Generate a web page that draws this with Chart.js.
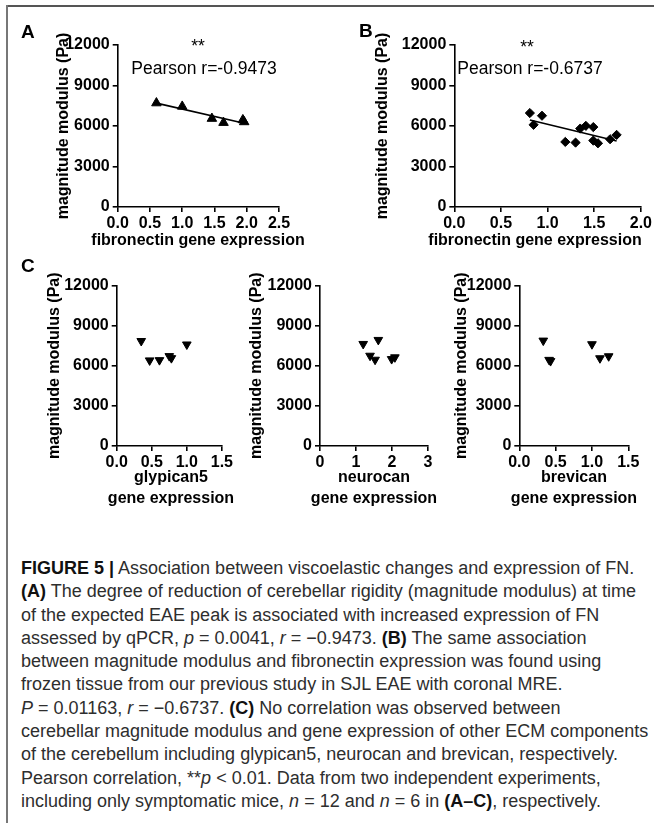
<!DOCTYPE html>
<html lang="en">
<head>
<meta charset="UTF-8">
<title>Figure 5 - magnitude modulus vs gene expression</title>
<script src="https://cdn.jsdelivr.net/npm/chart.js"></script>
<style>
  html, body { margin: 0; padding: 0; background: #fff; }
  #fig { position: relative; width: 654px; height: 823px; overflow: hidden; font-family: "Liberation Sans", Arial, sans-serif; }
  #fig canvas { position: absolute; }
  .frame-top { position: absolute; left: 6px; top: 5px; width: 648px; height: 2px; background: #555; }
  .frame-left { position: absolute; left: 6px; top: 5px; width: 2px; height: 818px; background: #777; }
  .lbl { position: absolute; font-weight: bold; font-size: 19px; color: #000; line-height: 1; }
  .note { position: absolute; font-size: 17.5px; color: #000; line-height: 1; transform: translate(-50%, -50%); white-space: nowrap; }
  .xt { position: absolute; font-weight: bold; font-size: 16px; line-height: 20.5px; color: #000; text-align: center; transform: translate(-50%, -50%); white-space: nowrap; }
  .cap { position: absolute; left: 21px; top: 557px; font-size: 18px; line-height: 23.3px; color: #2e2e2e; white-space: nowrap; }
  .cap b { color: #111; }
</style>
</head>
<body>
<div id="fig">
  <div class="frame-top"></div>
  <div class="frame-left"></div>

  <canvas id="chartA" width="300" height="260" style="left:0;top:0"></canvas>
  <canvas id="chartB" width="324" height="260" style="left:330px;top:0"></canvas>
  <canvas id="chartC1" width="235" height="270" style="left:0;top:250px"></canvas>
  <canvas id="chartC2" width="210" height="270" style="left:230px;top:250px"></canvas>
  <canvas id="chartC3" width="219" height="270" style="left:435px;top:250px"></canvas>

  <div class="lbl" style="left:21px;top:22px">A</div>
  <div class="lbl" style="left:359px;top:21px">B</div>
  <div class="lbl" style="left:21px;top:256px">C</div>

  <div class="note" style="left:198px;top:47px">**</div>
  <div class="note" style="left:204px;top:69px">Pearson r=-0.9473</div>
  <div class="note" style="left:527px;top:48px">**</div>
  <div class="note" style="left:530px;top:69px">Pearson r=-0.6737</div>

  <div class="xt" style="left:198px;top:240px">fibronectin gene expression</div>
  <div class="xt" style="left:535px;top:240px">fibronectin gene expression</div>
  <div class="xt" style="left:171px;top:487px">glypican5<br>gene expression</div>
  <div class="xt" style="left:374px;top:487px">neurocan<br>gene expression</div>
  <div class="xt" style="left:574px;top:487px">brevican<br>gene expression</div>

  <div class="cap">
    <div><b>FIGURE 5 |</b> Association between viscoelastic changes and expression of FN.</div>
    <div><b>(A)</b> The degree of reduction of cerebellar rigidity (magnitude modulus) at time</div>
    <div>of the expected EAE peak is associated with increased expression of FN</div>
    <div>assessed by qPCR, <i>p</i> = 0.0041, <i>r</i> = −0.9473. <b>(B)</b> The same association</div>
    <div>between magnitude modulus and fibronectin expression was found using</div>
    <div>frozen tissue from our previous study in SJL EAE with coronal MRE.</div>
    <div><i>P</i> = 0.01163, <i>r</i> = −0.6737. <b>(C)</b> No correlation was observed between</div>
    <div>cerebellar magnitude modulus and gene expression of other ECM components</div>
    <div>of the cerebellum including glypican5, neurocan and brevican, respectively.</div>
    <div>Pearson correlation, **<i>p</i> &lt; 0.01. Data from two independent experiments,</div>
    <div>including only symptomatic mice, <i>n</i> = 12 and <i>n</i> = 6 in <b>(A–C)</b>, respectively.</div>
  </div>
</div>

<script>
// ---- data ----
// panel A : fibronectin expression vs magnitude modulus (n = 6)
const fnA  = [0.60, 1.00, 1.46, 1.64, 1.94, 1.96];
const modA = [7700, 7450, 6550, 6250, 6450, 6300];

// panel B : fibronectin expression vs magnitude modulus, SJL EAE (n = 12)
const fnB  = [0.81, 0.85, 0.94, 1.19, 1.30, 1.35, 1.41, 1.49, 1.49, 1.54, 1.67, 1.74];
const modB = [6960, 6090, 6760, 4820, 4770, 5810, 6010, 5920, 4920, 4720, 5020, 5340];

// panel C : other ECM components
const glypican5 = [0.35, 0.47, 0.61, 0.75, 0.78, 1.00];
const modGly    = [7850, 6400, 6420, 6720, 6570, 7590];
const neurocan  = [1.20, 1.39, 1.53, 1.62, 1.99, 2.08];
const modNeu    = [7630, 6750, 6450, 7930, 6500, 6630];
const brevican  = [0.33, 0.41, 0.43, 1.00, 1.11, 1.23];
const modBre    = [7880, 6440, 6350, 7610, 6560, 6710];

// axis ticks
const yTicks = [0, 3000, 6000, 9000, 12000];
const xTicksA = [0.0, 0.5, 1.0, 1.5, 2.0, 2.5];
const xTicksB = [0.0, 0.5, 1.0, 1.5, 2.0];
const xTicksC = [0.0, 0.5, 1.0, 1.5];
const xTicksNeu = [0, 1, 2, 3];

const yTitle = 'magnitude modulus (Pa)';

function pts(xs, ys) {
  return xs.map((x, i) => ({ x: x, y: ys[i] }));
}

// least squares line over the range of the data (what the original fit shows)
function fitLine(xs, ys) {
  const n = xs.length;
  const mx = xs.reduce((a, b) => a + b, 0) / n;
  const my = ys.reduce((a, b) => a + b, 0) / n;
  let sxy = 0, sxx = 0;
  for (let i = 0; i < n; i++) {
    sxy += (xs[i] - mx) * (ys[i] - my);
    sxx += (xs[i] - mx) * (xs[i] - mx);
  }
  const slope = sxy / sxx;
  const x0 = Math.min(...xs), x1 = Math.max(...xs);
  return [{ x: x0, y: my + slope * (x0 - mx) }, { x: x1, y: my + slope * (x1 - mx) }];
}

const tickFont = { family: 'Liberation Sans, Arial, sans-serif', size: 16, weight: 'bold' };

function makePanel(id, cfg) {
  const datasets = [{
    type: 'scatter',
    data: pts(cfg.xs, cfg.ys),
    pointStyle: cfg.marker,
    rotation: cfg.rotation || 0,
    radius: cfg.radius,
    backgroundColor: '#000',
    borderColor: '#000',
    borderWidth: 1,
    clip: false
  }];
  if (cfg.fit) {
    datasets.push({
      type: 'line',
      data: fitLine(cfg.xs, cfg.ys),
      borderColor: '#000',
      borderWidth: 1.6,
      pointRadius: 0,
      fill: false,
      clip: false
    });
  }
  const xt = cfg.xTicks;
  new Chart(document.getElementById(id), {
    type: 'scatter',
    data: { datasets: datasets },
    options: {
      responsive: false,
      animation: false,
      events: [],
      layout: { autoPadding: false, padding: { left: 0, top: cfg.top, right: cfg.right, bottom: 0 } },
      plugins: { legend: { display: false }, tooltip: { enabled: false } },
      scales: {
        x: {
          type: 'linear',
          min: xt[0],
          max: xt[xt.length - 1],
          afterBuildTicks: s => { s.ticks = xt.map(v => ({ value: v })); },
          afterFit: s => { s.height = cfg.xHeight; },
          ticks: {
            color: '#000', font: tickFont, padding: 2, maxRotation: 0, autoSkip: false,
            callback: v => cfg.xDigits ? v.toFixed(cfg.xDigits) : String(v)
          },
          grid: { drawOnChartArea: false, drawTicks: true, tickLength: 5, color: '#000', lineWidth: 1.6 },
          border: { display: true, color: '#000', width: 1.6 },
          title: { display: false }
        },
        y: {
          type: 'linear',
          min: 0,
          max: 12000,
          afterBuildTicks: s => { s.ticks = yTicks.map(v => ({ value: v })); },
          afterFit: s => { s.width = cfg.yWidth; },
          ticks: { color: '#000', font: tickFont, padding: 3, callback: v => String(v) },
          grid: { drawOnChartArea: false, drawTicks: true, tickLength: 5, color: '#000', lineWidth: 1.6 },
          border: { display: true, color: '#000', width: 1.6 },
          title: {
            display: true, text: yTitle, color: '#000',
            font: { family: 'Liberation Sans, Arial, sans-serif', size: 16, weight: 'bold', lineHeight: 1.2 },
            padding: { top: cfg.yTitlePad, bottom: 0 }
          }
        }
      }
    }
  });
}

makePanel('chartA', {
  xs: fnA, ys: modA, marker: 'triangle', radius: 5.5, fit: true,
  xTicks: xTicksA, xDigits: 1,
  top: 45, right: 21, yWidth: 117.7, xHeight: 53, yTitlePad: 53.5
});

makePanel('chartB', {
  xs: fnB, ys: modB, marker: 'rectRot', radius: 4.6, fit: true,
  xTicks: xTicksB, xDigits: 1,
  top: 45, right: 8, yWidth: 124.3, xHeight: 53, yTitlePad: 43.4
});

makePanel('chartC1', {
  xs: glypican5, ys: modGly, marker: 'triangle', rotation: 180, radius: 5, fit: false,
  xTicks: xTicksC, xDigits: 1,
  top: 35.5, right: 10, yWidth: 116.7, xHeight: 74, yTitlePad: 45.4
});

makePanel('chartC2', {
  xs: neurocan, ys: modNeu, marker: 'triangle', rotation: 180, radius: 5, fit: false,
  xTicks: xTicksNeu, xDigits: 0,
  top: 35.5, right: 12, yWidth: 90, xHeight: 74, yTitlePad: 17.4
});

makePanel('chartC3', {
  xs: brevican, ys: modBre, marker: 'triangle', rotation: 180, radius: 5, fit: false,
  xTicks: xTicksC, xDigits: 1,
  top: 35.5, right: 25.7, yWidth: 84.3, xHeight: 74, yTitlePad: 17.4
});
</script>
</body>
</html>
